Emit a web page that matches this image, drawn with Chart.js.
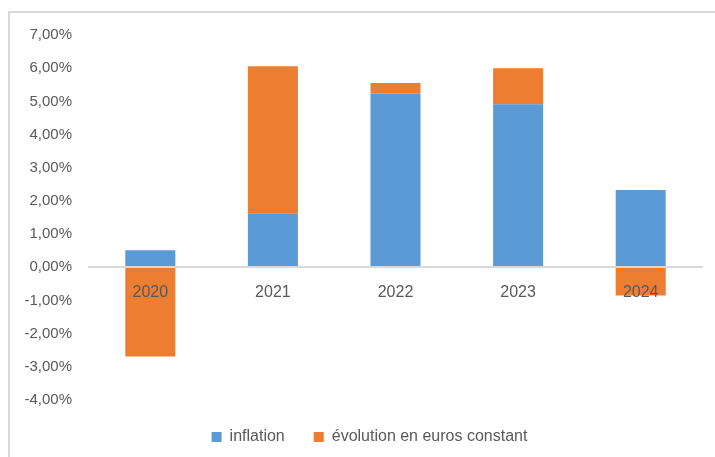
<!DOCTYPE html>
<html lang="fr">
<head>
    <meta charset="UTF-8" />
    <title>Inflation et évolution en euros constant</title>
    <style>
        body {
            margin: 0;
            background: #fff;
        }
        .frame {
            position: absolute;
            left: 8px;
            top: 11px;
            right: 0;
            bottom: 0;
            border-left: 2px solid #d9d9d9;
            border-top: 2px solid #d9d9d9;
        }
        #chart {
            position: absolute;
            left: 0;
            top: 0;
        }
    </style>
</head>
<body>
    <div class="frame"></div>
    <canvas id="chart" width="715" height="457"></canvas>

    <script src="https://cdn.jsdelivr.net/npm/chart.js"></script>
    <script>
        const years = ['2020', '2021', '2022', '2023', '2024'];
        const inflation = [0.51, 1.61, 5.24, 4.91, 2.33];
        const evolution = [-2.69, 4.45, 0.31, 1.09, -0.85];
        const seriesLabels = ['inflation', 'évolution en euros constant'];
        const yMin = -4;
        const yMax = 7;

        const gray = '#595959';

        function pct(v) {
            return v.toFixed(2).replace('.', ',') + '%';
        }

        new Chart(document.getElementById('chart'), {
            type: 'bar',
            data: {
                labels: years,
                datasets: [{
                    label: seriesLabels[0],
                    data: inflation,
                    backgroundColor: '#5b9bd5'
                }, {
                    label: seriesLabels[1],
                    data: evolution,
                    backgroundColor: '#ed7d31'
                }]
            },
            options: {
                responsive: false,
                animation: false,
                barPercentage: 0.408,
                categoryPercentage: 1,
                layout: {
                    padding: { left: 24, right: 0, top: 35, bottom: 2 }
                },
                plugins: {
                    tooltip: { enabled: false },
                    legend: {
                        position: 'bottom',
                        labels: {
                            color: gray,
                            font: { family: 'Liberation Sans', size: 16 },
                            boxWidth: 10,
                            boxHeight: 10,
                            padding: 29
                        }
                    }
                },
                scales: {
                    x: {
                        stacked: true,
                        position: { y: 0 },
                        grid: { display: false, drawTicks: false },
                        border: { color: '#d9d9d9', width: 2, z: 1 },
                        ticks: {
                            color: gray,
                            font: { family: 'Liberation Sans', size: 16 },
                            padding: 16,
                            z: 1
                        },
                        // the axis sits on zero, this only keeps room above the legend
                        afterFit: (s) => { s.height = 5; }
                    },
                    y: {
                        stacked: true,
                        min: yMin,
                        max: yMax,
                        grid: { display: false, drawTicks: false },
                        border: { display: false },
                        ticks: {
                            stepSize: 1,
                            color: gray,
                            font: { family: 'Liberation Sans', size: 15 },
                            padding: 17,
                            callback: (v) => pct(v)
                        },
                        afterFit: (s) => { s.width = 65; }
                    },
                    y2: {
                        position: 'right',
                        grid: { display: false },
                        border: { display: false },
                        ticks: { display: false },
                        afterFit: (s) => { s.width = 13; }
                    }
                }
            }
        });
    </script>
</body>
</html>
